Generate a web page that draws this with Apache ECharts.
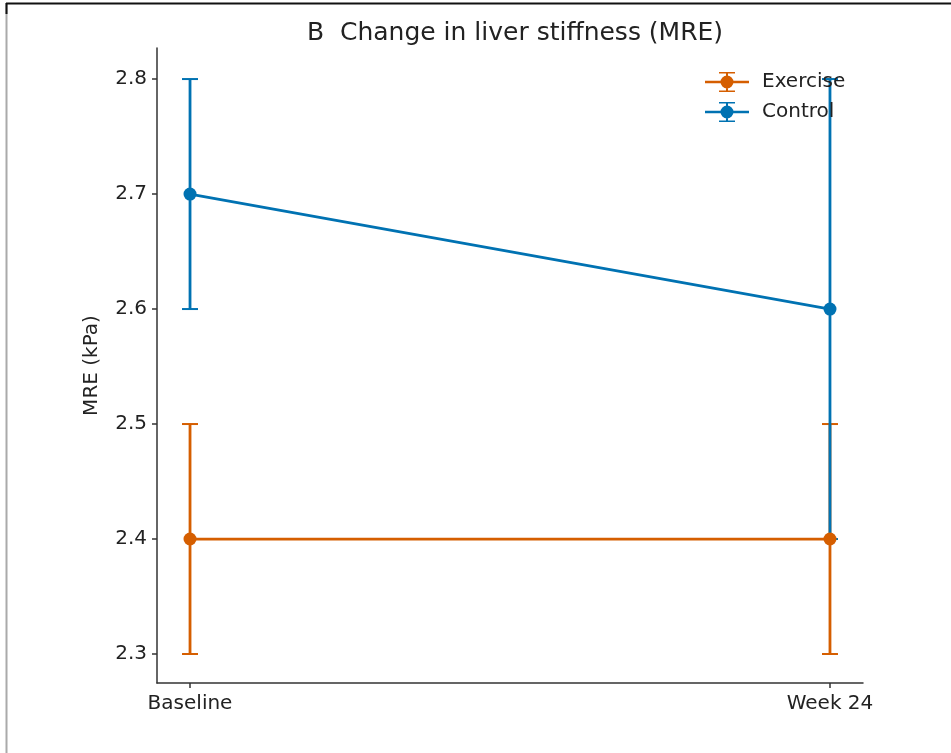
<!DOCTYPE html>
<html>
<head>
<meta charset="utf-8">
<script src="https://cdn.jsdelivr.net/npm/echarts@6/dist/echarts.min.js"></script>
<style>html,body{margin:0;padding:0;background:#fff;}#c{width:951px;height:753px;}</style>
</head>
<body>
<div id="c"></div>
<script>
var categories = ['Baseline', 'Week 24'];
var yTicks = [2.3, 2.4, 2.5, 2.6, 2.7, 2.8];
var exerciseMean = [2.4, 2.4];
var exerciseLow = [2.3, 2.3];
var exerciseHigh = [2.5, 2.5];
var controlMean = [2.7, 2.6];
var controlLow = [2.6, 2.4];
var controlHigh = [2.8, 2.8];

var ORANGE = '#D55E00';
var BLUE = '#0072B2';

function pts(mean) { return mean.map(function (v, i) { return [i, v]; }); }
function errs(lo, hi) { return lo.map(function (v, i) { return [i, v, hi[i]]; }); }

function errRender(color) {
  return function (params, api) {
    var x = api.value(0);
    var p1 = api.coord([x, api.value(1)]);
    var p2 = api.coord([x, api.value(2)]);
    var half = 8;
    var st = { stroke: color, lineWidth: 2.8 };
    var cs = { stroke: color, lineWidth: 2 };
    return {
      type: 'group',
      children: [
        { type: 'line', shape: { x1: p1[0], y1: p1[1], x2: p2[0], y2: p2[1] }, style: st },
        { type: 'line', shape: { x1: p1[0] - half, y1: p1[1], x2: p1[0] + half, y2: p1[1] }, style: cs },
        { type: 'line', shape: { x1: p2[0] - half, y1: p2[1], x2: p2[0] + half, y2: p2[1] }, style: cs }
      ]
    };
  };
}

var icon = 'path://M0 9.75H44V12.25H0Z M15.5 11A6.5 6.5 0 1 1 28.5 11A6.5 6.5 0 1 1 15.5 11Z M21 1H23V21H21Z M14 1H30V2.5H14Z M14 19.5H30V21H14Z';

var chart = echarts.init(document.getElementById('c'), null, { renderer: 'canvas' });
chart.setOption({
  animation: false,
  backgroundColor: '#fff',
  textStyle: { fontFamily: 'DejaVu Sans' },
  title: {
    text: 'B  Change in liver stiffness (MRE)',
    left: 510, top: 16, textAlign: 'center',
    textStyle: { fontFamily: 'DejaVu Sans', fontSize: 25, fontWeight: 'normal', color: '#222' }
  },
  legend: {
    orient: 'vertical', left: 700, top: 67,
    itemWidth: 44, itemHeight: 20, itemGap: 10,
    textStyle: { fontFamily: 'DejaVu Sans', fontSize: 20, color: '#222', padding: [0, 0, 0, 8] },
    data: [
      { name: 'Exercise', icon: icon, itemStyle: { color: ORANGE } },
      { name: 'Control', icon: icon, itemStyle: { color: BLUE } }
    ]
  },
  grid: { left: 157, right: 88, top: 48, bottom: 70 },
  xAxis: {
    type: 'value', min: -0.0516, max: 1.0516,
    axisLine: { onZero: false, lineStyle: { color: '#333', width: 1.5 } },
    axisTick: { customValues: [0, 1], length: 5, lineStyle: { color: '#333', width: 1.5 } },
    axisLabel: { customValues: [0, 1], margin: 11, fontSize: 20, color: '#222', fontFamily: 'DejaVu Sans',
      formatter: function (v) { return categories[Math.round(v)]; } },
    splitLine: { show: false }
  },
  yAxis: {
    type: 'value', min: 2.2748, max: 2.827,
    name: 'MRE (kPa)', nameLocation: 'middle', nameGap: 55, nameRotate: 90,
    nameTextStyle: { fontSize: 20, color: '#222', fontFamily: 'DejaVu Sans' },
    axisLine: { show: true, onZero: false, lineStyle: { color: '#333', width: 1.5 } },
    axisTick: { show: true, customValues: yTicks, length: 5, lineStyle: { color: '#333', width: 1.5 } },
    axisLabel: { customValues: yTicks, margin: 10, fontSize: 20, color: '#222', fontFamily: 'DejaVu Sans',
      formatter: function (v) { return v.toFixed(1); } },
    splitLine: { show: false }
  },
  series: [
    { name: 'Exercise', type: 'custom', renderItem: errRender(ORANGE), data: errs(exerciseLow, exerciseHigh), z: 2, silent: true },
    { name: 'Control', type: 'custom', renderItem: errRender(BLUE), data: errs(controlLow, controlHigh), z: 3, silent: true },
    { name: 'Control', type: 'line', data: pts(controlMean), symbol: 'circle', symbolSize: 13,
      lineStyle: { color: BLUE, width: 2.8 }, itemStyle: { color: BLUE }, z: 4 },
    { name: 'Exercise', type: 'line', data: pts(exerciseMean), symbol: 'circle', symbolSize: 13,
      lineStyle: { color: ORANGE, width: 2.8 }, itemStyle: { color: ORANGE }, z: 5 }
  ],
  graphic: [
    { type: 'line', shape: { x1: 6.5, y1: 3, x2: 6.5, y2: 753 }, style: { stroke: '#aaa', lineWidth: 2 }, z: 100 },
    { type: 'line', shape: { x1: 6.5, y1: 3, x2: 6.5, y2: 14 }, style: { stroke: '#111', lineWidth: 2 }, z: 101 },
    { type: 'line', shape: { x1: 6, y1: 3.5, x2: 951, y2: 3.5 }, style: { stroke: '#111', lineWidth: 2 }, z: 101 }
  ]
});
</script>
</body>
</html>
